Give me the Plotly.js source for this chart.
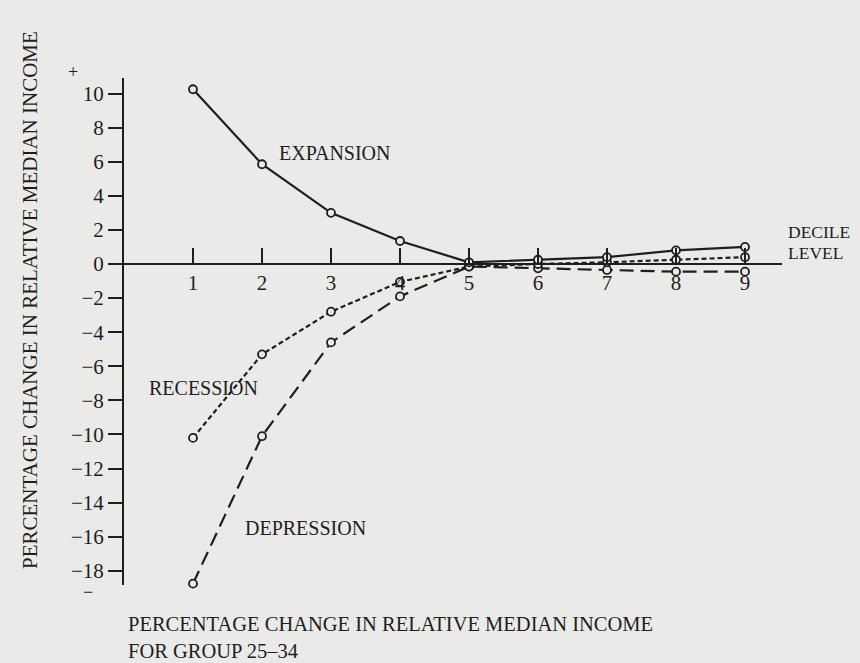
<!DOCTYPE html>
<html>
<head>
<meta charset="utf-8">
<script src="https://cdn.plot.ly/plotly-3.0.1.min.js"></script>
<style>html,body{margin:0;padding:0;background:#eaeae8;}</style>
</head>
<body>
<div id="chart" style="width:860px;height:663px;"></div>
<script>
const deciles = [1, 2, 3, 4, 5, 6, 7, 8, 9];
const expansion = [10.25, 5.85, 3.0, 1.35, 0.1, 0.25, 0.4, 0.8, 1.0];
const recession = [-10.2, -5.3, -2.8, -1.05, -0.15, 0.0, 0.1, 0.25, 0.4];
const depression = [-18.75, -10.1, -4.6, -1.9, -0.15, -0.25, -0.35, -0.45, -0.45];
const yTicks = [-18, -16, -14, -12, -10, -8, -6, -4, -2, 0, 2, 4, 6, 8, 10];

const ink = '#1e1e1e';
const paper = '#eaeae8';
const serif = 'Liberation Serif, Times New Roman, serif';
const yMin = -18.83, yMax = 10.91;

function series(y, dash) {
  return {
    x: deciles, y: y, type: 'scatter', mode: 'lines+markers',
    line: {color: ink, width: 2.2, dash: dash},
    marker: {symbol: 'circle', size: 8, color: paper, line: {color: ink, width: 1.8}},
    cliponaxis: false, showlegend: false, hoverinfo: 'skip'
  };
}

const data = [
  series(depression, '14px,7px'),
  series(recession, '5px,3px'),
  series(expansion, 'solid')
];

const layout = {
  width: 860, height: 663,
  margin: {l: 124, r: 78, t: 78, b: 78},
  paper_bgcolor: paper, plot_bgcolor: paper,
  font: {family: serif, color: ink, size: 20},
  xaxis: {
    range: [0, 9.536], showgrid: false, zeroline: false,
    showline: true, linecolor: ink, linewidth: 2,
    anchor: 'free', position: (0 - yMin) / (yMax - yMin),
    tickvals: deciles, ticks: 'inside', ticklen: 15, tickwidth: 2, tickcolor: ink,
    tickfont: {family: serif, size: 21, color: ink}
  },
  yaxis: {
    range: [yMin, yMax], showgrid: false, zeroline: false,
    showline: true, linecolor: ink, linewidth: 2,
    tickvals: yTicks, ticks: 'outside', ticklen: 14, tickwidth: 2, tickcolor: ink,
    tickfont: {family: serif, size: 21, color: ink}
  },
  annotations: [
    {xref: 'x', yref: 'y', x: 2.22, y: 6.5, xanchor: 'left', yanchor: 'middle', text: 'EXPANSION', showarrow: false, font: {size: 20}},
    {xref: 'x', yref: 'y', x: 0.34, y: -7.27, xanchor: 'left', yanchor: 'middle', text: 'RECESSION', showarrow: false, font: {size: 20}},
    {xref: 'x', yref: 'y', x: 1.72, y: -15.5, xanchor: 'left', yanchor: 'middle', text: 'DEPRESSION', showarrow: false, font: {size: 20}},
    {xref: 'paper', yref: 'paper', x: 1.006, y: 0.696, xanchor: 'left', yanchor: 'middle', text: 'DECILE', showarrow: false, font: {size: 17.5}},
    {xref: 'paper', yref: 'paper', x: 1.006, y: 0.655, xanchor: 'left', yanchor: 'middle', text: 'LEVEL', showarrow: false, font: {size: 17.5}},
    {xref: 'paper', yref: 'paper', x: -0.1429, y: 0.562, xanchor: 'center', yanchor: 'middle', textangle: -90, text: 'PERCENTAGE CHANGE IN RELATIVE MEDIAN INCOME', showarrow: false, font: {size: 21}},
    {xref: 'paper', yref: 'paper', x: 0.003, y: -0.0769, xanchor: 'left', yanchor: 'middle', text: 'PERCENTAGE CHANGE IN RELATIVE MEDIAN INCOME', showarrow: false, font: {size: 20.5}},
    {xref: 'paper', yref: 'paper', x: 0.003, y: -0.130, xanchor: 'left', yanchor: 'middle', text: 'FOR GROUP 25–34', showarrow: false, font: {size: 20.5}},
    {xref: 'paper', yref: 'paper', x: -0.0775, y: 1.012, xanchor: 'center', yanchor: 'middle', text: '+', showarrow: false, font: {size: 18}},
    {xref: 'paper', yref: 'paper', x: -0.0547, y: -0.0138, xanchor: 'center', yanchor: 'middle', text: '−', showarrow: false, font: {size: 18}}
  ]
};

Plotly.newPlot('chart', data, layout, {staticPlot: true, displayModeBar: false});
</script>
</body>
</html>
